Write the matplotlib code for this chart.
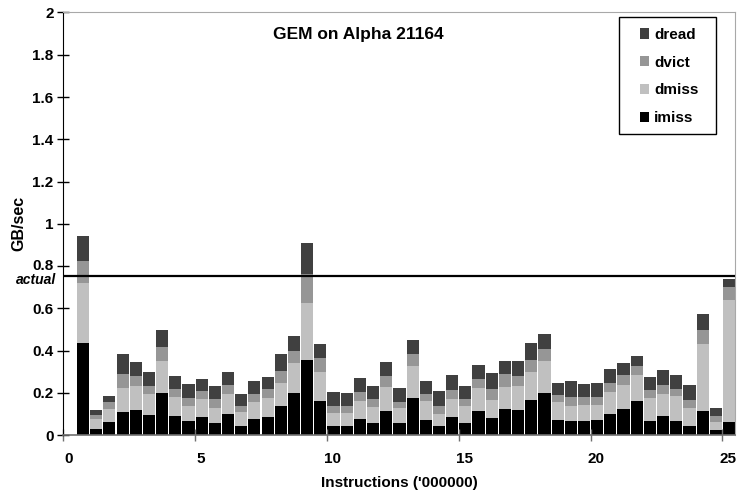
import numpy as np
import matplotlib
matplotlib.use("Agg")
import matplotlib.pyplot as plt
import matplotlib.transforms as mtransforms
from matplotlib.patches import Rectangle

plt.rcParams['font.family'] = ['Liberation Sans', 'DejaVu Sans']
plt.rcParams['font.weight'] = 'bold'

# left edge of each sample (millions of instructions)
x_start = np.arange(50) * 0.5 + 0.5

imiss = [.436, .029, .062, .110, .119, .095, .200, .090, .067, .086,
         .057, .100, .043, .076, .086, .138, .200, .356, .161, .043,
         .043, .076, .057, .114, .057, .176, .071, .043, .086, .057,
         .114, .081, .124, .119, .166, .200, .071, .067, .067, .071,
         .100, .124, .161, .067, .090, .067, .043, .114, .024, .062]
dmiss = [.285, .047, .062, .113, .114, .100, .151, .090, .071, .085,
         .071, .095, .067, .081, .090, .109, .141, .270, .138, .062,
         .062, .085, .076, .114, .071, .151, .090, .057, .085, .081,
         .109, .085, .104, .114, .133, .151, .086, .071, .076, .072,
         .104, .113, .123, .109, .105, .118, .085, .318, .038, .578]
dvict = [.104, .019, .034, .066, .047, .038, .066, .038, .038, .038,
         .043, .042, .028, .038, .042, .057, .057, .137, .067, .033,
         .033, .043, .038, .052, .029, .057, .034, .038, .042, .033,
         .043, .052, .061, .047, .057, .057, .033, .042, .037, .037,
         .043, .047, .043, .037, .042, .033, .038, .066, .028, .061]
dread = [.115, .024, .027, .095, .066, .066, .081, .062, .066, .057,
         .062, .062, .057, .061, .057, .080, .071, .148, .066, .066,
         .062, .066, .062, .066, .066, .067, .061, .071, .071, .062,
         .066, .076, .062, .071, .080, .070, .057, .076, .062, .067,
         .066, .057, .047, .062, .071, .066, .071, .075, .038, .038]

actual = 0.755

series = [("imiss", imiss, "#000000"),
          ("dmiss", dmiss, "#c0c0c0"),
          ("dvict", dvict, "#969696"),
          ("dread", dread, "#404040")]

fig = plt.figure(figsize=(7.4, 4.96), dpi=100)
ax = fig.add_axes([0.0855, 0.1228, 0.9075, 0.852])

bottom = np.zeros(len(x_start))
handles = {}
for name, vals, col in series:
    vals = np.array(vals)
    b = ax.bar(x_start + 0.25, vals, width=0.46, bottom=bottom, color=col,
               linewidth=0, label=name)
    handles[name] = b
    bottom += vals

ax.axhline(actual, color='black', linewidth=1.6, zorder=5)

ax.set_xlim(0, 25.47)
ax.set_ylim(0, 2)
ax.set_xticks([0, 5, 10, 15, 20, 25])
ax.set_yticks(np.arange(0, 2.01, 0.2))
ax.set_yticklabels(['0', '0.2', '0.4', '0.6', '0.8', '1', '1.2', '1.4', '1.6', '1.8', '2'])
ax.tick_params(axis='y', direction='inout', length=8, width=1, labelsize=11, pad=3)
ax.tick_params(axis='x', direction='inout', length=9, width=1, color='#707070',
               labelsize=11, pad=8)
for lab in ax.get_xticklabels():
    lab.set_transform(lab.get_transform() +
                      mtransforms.ScaledTranslation(0.055, 0, fig.dpi_scale_trans))
# nudge the 0.8 label up a touch so it clears 'actual'
lab08 = ax.get_yticklabels()[4]
lab08.set_transform(lab08.get_transform() +
                    mtransforms.ScaledTranslation(0, 0.02, fig.dpi_scale_trans))

ax.text(-0.011, 0.733, 'actual', transform=ax.get_yaxis_transform(), ha='right',
        va='center', fontsize=10, fontweight='bold', style='italic')

ax.spines['left'].set_color('black')
ax.spines['bottom'].set_color('#707070')
ax.spines['bottom'].set_linewidth(1.2)
ax.spines['top'].set_color('#a8a8a8')
ax.spines['right'].set_color('#a8a8a8')

ax.set_ylabel('GB/sec', fontsize=11.5, fontweight='bold', labelpad=4)
ax.set_xlabel("Instructions ('000000)", fontsize=11, fontweight='bold', labelpad=7)
ax.text(0.439, 0.949, 'GEM on Alpha 21164', transform=ax.transAxes, ha='center',
        va='center', fontsize=12.5, fontweight='bold')

# legend box
ax.add_patch(Rectangle((0.828, 0.712), 0.144, 0.278, transform=ax.transAxes,
                       fill=False, edgecolor='black', linewidth=1, zorder=6))
order = ["dread", "dvict", "dmiss", "imiss"]
leg = ax.legend([handles[n] for n in order], order, loc='center',
                bbox_to_anchor=(0.902, 0.8486), frameon=False, fontsize=11,
                handlelength=0.65, handleheight=0.65, handletextpad=0.3,
                labelspacing=0.9, borderpad=0)

fig.savefig('out.png', dpi=100)
